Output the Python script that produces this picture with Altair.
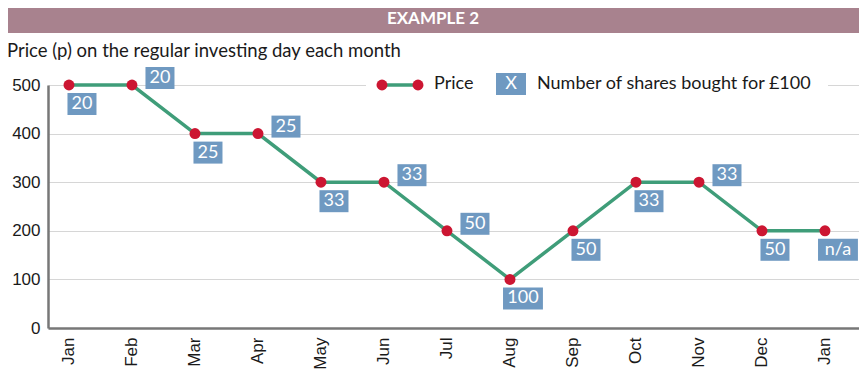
import altair as alt
import pandas as pd

months = ["Jan", "Feb", "Mar", "Apr", "May", "Jun", "Jul", "Aug", "Sep", "Oct", "Nov", "Dec", "Jan"]
prices = [500, 500, 400, 400, 300, 300, 200, 100, 200, 300, 300, 200, 200]
shares = ["20", "20", "25", "25", "33", "33", "50", "100", "50", "33", "33", "50", "n/a"]
label_side = ["below", "above", "below", "above", "below", "above", "above",
              "below", "below", "below", "above", "below", "below"]

df = pd.DataFrame({
    "i": list(range(len(months))),
    "month": months,
    "price": prices,
    "shares": shares,
    "side": label_side,
    "wide": ["wide" if len(s) > 2 else "narrow" for s in shares],
})

GREEN = "#3f9d79"
RED = "#cc1632"
BLUE = "#6f99c1"
MAUVE = "#a8828e"
TXT = "Lato"
AX = "Liberation Sans"

month_expr = "[" + ",".join("'%s'" % m for m in months) + "][datum.value]"

x = alt.X("i:Q", scale=alt.Scale(domain=[-0.333, 12.54], nice=False, zero=False),
          axis=alt.Axis(values=list(range(13)), labelExpr=month_expr, labelAngle=-90,
                        labelFontSize=17, labelFont=AX, labelColor="#1a1a1a",
                        ticks=False, grid=False, domainColor="#777777", domainWidth=2.5,
                        labelPadding=9, title=None))
y = alt.Y("price:Q", scale=alt.Scale(domain=[0, 500], nice=False),
          axis=alt.Axis(values=[0, 100, 200, 300, 400, 500], labelFontSize=17, labelFont=AX,
                        labelColor="#1a1a1a", ticks=False, grid=True, gridColor="#d6d6d6",
                        gridWidth=1.2, domainColor="#777777", domainWidth=2.5,
                        labelPadding=8, title=None))

base = alt.Chart(df)
line = base.mark_line(color=GREEN, strokeWidth=3.5).encode(x=x, y=y)
pts = base.mark_point(filled=True, color=RED, size=120, opacity=1).encode(x="i:Q", y="price:Q")

box_narrow = "M-0.967,-0.733L0.967,-0.733L0.967,0.733L-0.967,0.733Z"
box_wide = "M-1.33,-0.733L1.33,-0.733L1.33,0.733L-1.33,0.733Z"
shape_scale = alt.Scale(domain=["narrow", "wide"], range=[box_narrow, box_wide])

def label_layers(side, dx, dy):
    sub = base.transform_filter(alt.datum.side == side)
    b = sub.mark_point(filled=True, color=BLUE, size=900, opacity=1,
                       xOffset=dx, yOffset=dy).encode(
        x="i:Q", y="price:Q", shape=alt.Shape("wide:N", scale=shape_scale, legend=None))
    t = sub.mark_text(color="white", font=TXT, fontSize=18, dx=dx, dy=dy,
                      baseline="middle", align="center").encode(
        x="i:Q", y="price:Q", text="shares:N")
    return [b, t]

labels = label_layers("below", 13, 19) + label_layers("above", 28, -7)

one = alt.Chart(pd.DataFrame({"k": [0]}))
title_bar = one.mark_rect(color=MAUVE).encode(
    x=alt.value(-40), x2=alt.value(811), y=alt.value(-77), y2=alt.value(-52))
title_txt = one.mark_text(text="EXAMPLE 2", color="white", font=TXT, fontWeight="bold",
                          fontSize=17, align="center", baseline="middle").encode(
    x=alt.value(385), y=alt.value(-66))
subtitle = one.mark_text(text="Price (p) on the regular investing day each month",
                         color="#1a1a1a", font=TXT, fontSize=18.5, align="left",
                         baseline="middle").encode(x=alt.value(-41), y=alt.value(-34))

leg_bg = one.mark_rect(color="white").encode(
    x=alt.value(318), x2=alt.value(780), y=alt.value(-13), y2=alt.value(13))
leg_line = one.mark_rule(color=GREEN, strokeWidth=3.5).encode(
    x=alt.value(334), x2=alt.value(370), y=alt.value(0))
leg_d1 = one.mark_point(filled=True, color=RED, size=120, opacity=1).encode(
    x=alt.value(334), y=alt.value(0))
leg_d2 = one.mark_point(filled=True, color=RED, size=120, opacity=1).encode(
    x=alt.value(370), y=alt.value(0))
leg_price = one.mark_text(text="Price", color="#1a1a1a", font=TXT, fontSize=18,
                          align="left", baseline="middle").encode(x=alt.value(386), y=alt.value(-1))
leg_box = one.mark_rect(color=BLUE).encode(
    x=alt.value(448), x2=alt.value(478), y=alt.value(-12), y2=alt.value(10))
leg_x = one.mark_text(text="X", color="white", font=TXT, fontSize=18,
                      align="center", baseline="middle").encode(x=alt.value(463), y=alt.value(-1))
leg_num = one.mark_text(text="Number of shares bought for £100", color="#1a1a1a", font=TXT,
                        fontSize=18, align="left", baseline="middle").encode(
    x=alt.value(489), y=alt.value(-1))

chart = alt.layer(
    line, pts, *labels,
    title_bar, title_txt, subtitle,
    leg_bg, leg_line, leg_d1, leg_d2, leg_price, leg_box, leg_x, leg_num,
).properties(
    width=811, height=243,
    padding={"left": 40, "top": 77, "right": 0, "bottom": 45},
    autosize=alt.AutoSizeParams(type="none"),
).configure_view(stroke=None)

chart.save("out.html", embed_options={"renderer": "svg", "actions": False})
